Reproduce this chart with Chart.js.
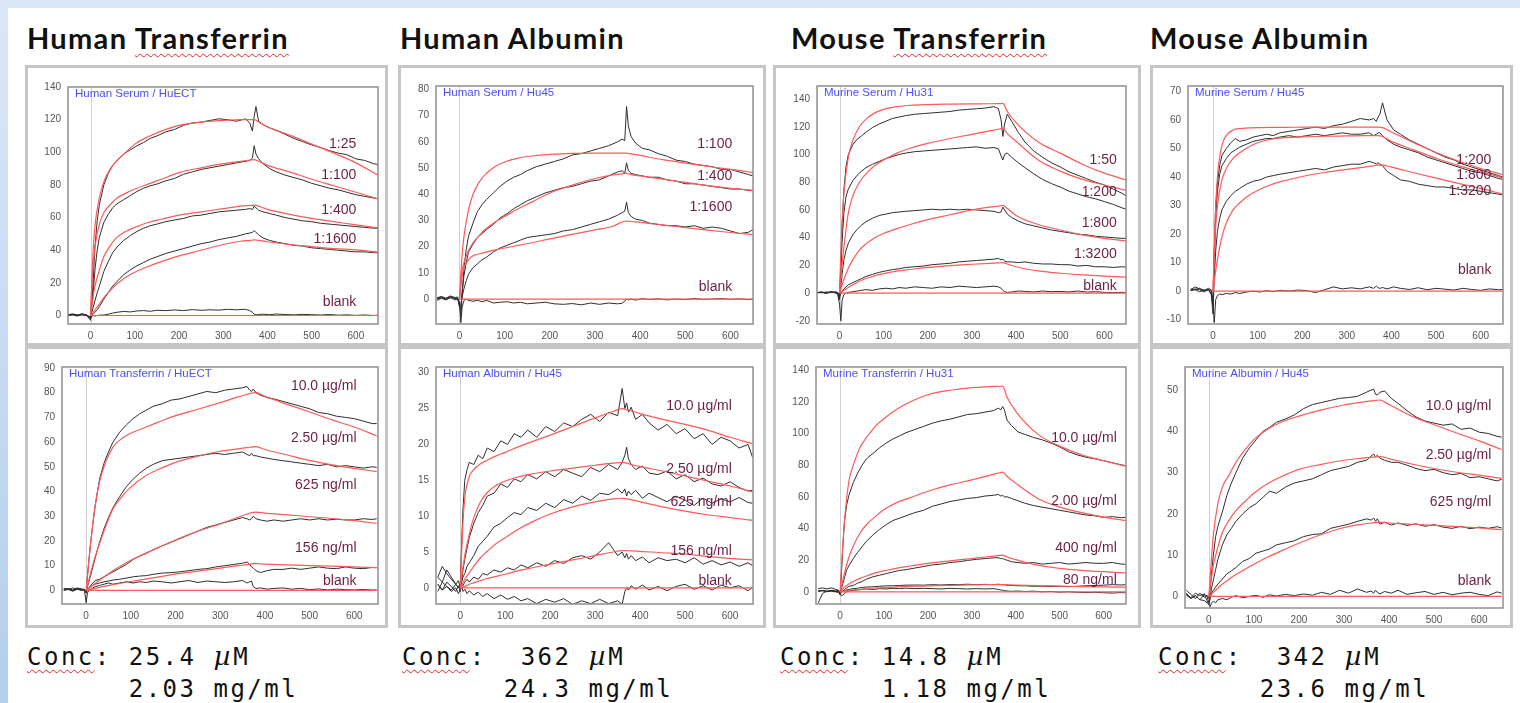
<!DOCTYPE html>
<html>
<head>
<meta charset="utf-8">
<script src="https://cdn.jsdelivr.net/npm/chart.js@4.4.1/dist/chart.umd.min.js"></script>
<style>
  body { margin: 0; width: 1520px; height: 703px; position: relative; overflow: hidden; background: #fff; font-family: 'Liberation Sans', Arial, sans-serif; }
  #topBand { position: absolute; left: 0; top: 0; width: 1520px; height: 8px; background: #dbe7f7; }
  #leftBand { position: absolute; left: 0; top: 0; width: 8px; height: 703px; background: linear-gradient(#dbe7f7, #b3cfee); }
  .title { position: absolute; top: 24px; font: 700 29px Lato, sans-serif; letter-spacing: 1.3px; line-height: 27px; color: #111; white-space: nowrap; }
  .sp { text-decoration: underline wavy #e22; text-decoration-thickness: 1px; text-underline-offset: 4px; }
  .frame { position: absolute; box-sizing: border-box; border: 3px solid #c6c6c6; }
  canvas { position: absolute; }
  .conc { position: absolute; top: 640px; font: 24px 'DejaVu Sans Mono', monospace; letter-spacing: 2.5px; line-height: 32px; white-space: pre; color: #111; }
  .mu { font-family: 'DejaVu Serif', serif; font-style: italic; font-size: 26px; letter-spacing: 3px; }
</style>
</head>
<body>
<div id="topBand"></div>
<div id="leftBand"></div>

<div class="title" style="left:27px">Human <span class="sp">Transferrin</span></div>
<div class="title" style="left:400px">Human Albumin</div>
<div class="title" style="left:791px">Mouse <span class="sp">Transferrin</span></div>
<div class="title" style="left:1150px">Mouse Albumin</div>

<div class="conc" style="left:27px"><span class="sp">Conc</span>: 25.4 <span class="mu">µ</span>M
      2.03 mg/ml</div>
<div class="conc" style="left:402px"><span class="sp">Conc</span>:  362 <span class="mu">µ</span>M
      24.3 mg/ml</div>
<div class="conc" style="left:780px"><span class="sp">Conc</span>: 14.8 <span class="mu">µ</span>M
      1.18 mg/ml</div>
<div class="conc" style="left:1158px"><span class="sp">Conc</span>:  342 <span class="mu">µ</span>M
      23.6 mg/ml</div>

<script>
// time axis (s) of the measured traces and of the fitted curves
const tData = [-50,-40,-30,-20,-10,-4, 0,3,6,10,15,20, 30,40,50,60,75,90, 105,120,135,150,170,190, 210,230,250,270,290,310, 330,350,360,366,370,374, 380,390,405,420,440,460, 480,500,520,540,560,580, 600,620,640,650];
const tFit = [0,5,10,20,30,45,60,80,100,130,160,200,250,300,340,360,370,380,400,450,500,550,600,650];
const xTicks = [0,100,200,300,400,500,600];
const blankFit = [0,0,0,0,0,0,0,0,0,0,0,0,0,0,0,0,0,0,0,0,0,0,0,0];

// Human Serum / HuECT
const hsHuECTTicks = [0,20,40,60,80,100,120,140];
const hsHuECTNames = ['1:25','1:100','1:400','1:1600','blank'];
const hsHuECT25 = [0.5,0.8,0.2,0.9,0.4,-1.5, -3,8,22,42,58,68, 80,87,92,95,99,101.5, 104,106,108.5,110,112.5,114, 116.5,118,118.5,119.5,120.5,120, 119,120.5,118,113,122,128, 119,117,115,113.5,111,108.5, 106.5,104.5,103,101,99.5,98.5, 96,95,93,92.5];
const hsHuECT100 = [0.3,0.6,-0.2,0.5,0.3,-1, -2,6,14,28,40,48, 57,62,66,68.5,71,73.5, 76,78,79.5,80.5,82.5,84, 86.5,88,89.5,90.5,91.5,92.5, 93.5,94.5,95,96.5,104,99, 96,93,90,88,86,84.5, 83,81,79.5,78,77,75.5, 74,73,72,71.5];
const hsHuECT400 = [0.2,0.5,0,0.6,0.1,-0.8, -1.5,2,5,9,14,18, 27,33,38.5,42,46,49, 51.5,53.5,55,56,57.5,58.5, 59.5,61,61.5,62.5,63.5,64, 64.5,65,65.5,65,67,66, 64.5,63.5,62.5,61.5,60,59, 58,57.5,56.5,56,55.5,55, 54.5,54,53.5,53.5];
const hsHuECT1600 = [0,0.4,-0.3,0.5,0.2,-0.5, -1,0,0.8,2,3.5,5.5, 10,14,18,21,25,28, 30.5,32.5,34.5,36,38,39.5, 41,42.5,44,45,46.5,47.5, 48.5,50,50.5,51,52,51, 49.5,47.5,46,45,44,43, 42.5,41.5,41,40.5,40,39.5, 39,39,38.5,38.5];
const hsHuECTBlank = [0.6,0.9,0.3,1,0.5,-0.5, -1.5,-0.5,0,-0.3,0,0.2, 0.3,0.8,1.5,2,2.5,2.2, 2.8,3,2.6,3.2,3,3.4, 3,3.6,3.2,3.5,3.3,3.8, 3.5,3.8,3,2,0.8,0.4, 0.6,0.8,0.5,0.9,0.6,0.4, 0.7,0.5,0.3,0.6,0.2,0.4, 0.1,0.3,0,0.2];
const hsHuECT25Fit = [0,35,55,72,82,90,95,100,105,109.5,113,116.5,118.5,119.5,120,120,120,118.5,115.5,110.5,105,99.5,93.5,86];
const hsHuECT100Fit = [0,28,42,56,63,68,72,75,77.5,80.5,83.5,87.5,90.5,93,94.5,95.2,95.5,94.5,92,88,83.5,79.5,75.5,71.5];
const hsHuECT400Fit = [0,10,18,28,36,43,48,51.5,54,57,59,61.5,63.5,65.5,67,67.4,67.6,67,65,62,59.5,57.5,55.5,53.7];
const hsHuECT1600Fit = [0,1.5,3.5,7,11,15.5,19.5,23.5,26.5,30,33,36.5,40,43.5,45.5,46,46.3,46,45.2,43.5,42.2,41,40.2,38.9];

// Human Serum / Hu45
const hsHu45Ticks = [0,10,20,30,40,50,60,70,80];
const hsHu45Names = ['1:100','1:400','1:1600','blank'];
const hsHu45_100 = [0.5,1,0.4,1.2,0.6,0.8, -2,-6,2,12,19,24, 29,33.5,36,38,40.5,43, 45,46.5,47.5,49,50.5,51.5, 52.5,53.5,55,55.5,56.5,57.5, 58.5,60,61,60.5,73.5,66, 62,59.5,57.5,57,55.5,54.5, 53,52.5,51.5,51,50.5,49.5, 49.5,48.5,47.5,47];
const hsHu45_400 = [0.2,0.8,0,1,0.3,0.5, -2.5,-4,3,9,14,18, 21,23.5,25,26.5,28.5,31, 32.5,34.5,36,37.5,39,40.5, 41.5,42.5,43,44,45,45.5, 47,48.5,49,48,52,49, 48,47.5,47,46.5,46.5,45.5, 45,44,44,43.5,43,42.5, 42,42,41.5,41.5];
const hsHu45_1600 = [0,0.5,-0.3,0.7,0.2,0, -3,-2,1,4,7,9.5, 12,13.5,15,16,18,19.5, 20.5,21.5,22.5,23.5,24,24.5, 25,26,26.5,27.5,28.5,29.5, 30.5,32,33,33.5,37,33, 31.5,30.5,30,29,28.5,28, 28,27.5,28,27,27.5,27, 26,25,25.5,26.5];
const hsHu45Blank = [-0.5,0.3,-0.2,0.5,-0.3,0, -1,-9,-3,-0.5,0,-0.5, -0.8,-0.5,-1,-0.5,-1.5,-1.2, -1,-1.5,-1.2,-1.8,-1.5,-1.2, -1.8,-2,-1.7,-2.2,-1.5,-2, -1.5,-1.8,-1.6,-0.8,0,-0.3, 0,-0.4,0.2,-0.2,0.1,-0.3, 0,-0.2,0.2,-0.1,0,0.2, -0.1,0.1,-0.2,0];
const hsHu45_100Fit = [0,15,24,34,40,45,48,50.7,52.3,53.8,54.6,55.2,55.6,55.7,55.7,55.7,55.7,55.4,54.8,53.2,51.9,50.6,49.5,48.3];
const hsHu45_400Fit = [0,10,14,18.5,21.5,24.5,27,29.5,31.5,34.5,37,40.5,43.5,46,47.4,47.8,48,47.5,47,45.8,44.5,43.3,42.3,41.5];
const hsHu45_1600Fit = [0,8,12,15,16.5,17.3,18,18.8,19.5,20.5,21.5,23,24.7,26.4,27.8,29.4,29.8,29.6,29.3,28.3,27.3,26.3,25.4,24.6];

// Murine Serum / Hu31
const msHu31Ticks = [-20,0,20,40,60,80,100,120,140];
const msHu31Names = ['1:50','1:200','1:800','1:3200','blank'];
const msHu31_50 = [0.5,0.2,0.8,0.3,1,0.5, -3,20,50,75,92,100, 107,111,113.5,116,119.5,122, 124,126,127,128,129,129.5, 130,130.5,131,132,132.5,133, 133.5,134.5,133,125,113,122, 129,124,116,109,102.5,98, 94,91,87.5,85,82.5,80, 78,75,72,70];
const msHu31_200 = [0.3,0.6,0,0.7,0.2,0.3, -5,15,38,58,70,75, 81,85,88,90.5,93,95, 97,98.5,100,101,102,102.5, 103,103.5,104,104.5,105,105.5, 104.5,105,104,99,96,100, 101,98,94,90.5,86,82, 79,76.5,73.5,71.5,69.5,68, 66,64,61.5,60.4];
const msHu31_800 = [0.2,0.5,-0.2,0.6,0.3,0, -4,5,14,24,31,36, 42,46,49,51.5,54,56, 57,58,58.5,59,59.5,60, 60.5,60,60.5,60,60.5,60, 59.5,59,58,58.5,62,60, 57,54.5,52,50,48.5,47, 45.5,44.5,43.5,42.5,42,41, 40.5,40,39.5,39.5];
const msHu31_3200 = [0.3,0.6,0.1,0.8,0.4,0.2, -3,0,1.5,3,4.5,6, 7.5,9,10.5,12,13.5,15, 16,17,17.5,18.5,19,19.5, 20.5,21,21.5,22.5,23,23.5, 24,24.5,25,24,24.5,23, 22.5,22.5,22,22.5,21.5,21, 21,20.5,20.5,19.5,20,19, 19,18.5,19,18.8];
const msHu31Blank = [0.5,0.8,0.2,1,0.5,-1, -8,-20,-5,-1,0,0.5, 1,1.5,2,2.5,2,3, 3.5,3,4,3.5,4.5,4, 3.5,4.5,4,5,4.5,4, 4.5,5,4.5,3.5,2,1, 0.5,0.8,1.5,1.2,0.8,1.5, 1,1.2,0.8,1.5,0.7,1, 0.5,0.3,0.6,0.2];
const msHu31_50Fit = [0,46,72,98,110,120,125.5,130,132.5,134.5,135.5,136,136.3,136.5,136.6,136.7,136.8,131,123,109,101,93,86.5,81.5];
const msHu31_200Fit = [0,18,33,58,70,80,86,92,96,101,104.5,108,111.5,114.5,117,118.2,119,115,109.5,96,88,82,78,74];
const msHu31_800Fit = [0,5,10,18,24,31,35.5,40,43,46.5,49.5,53,56.5,60,62,62.8,63.3,61,56,49.5,45.5,42,39.5,37.5];
const msHu31_3200Fit = [0,1,2,4,6,8.5,10.5,12.5,14,15.8,17,18.5,19.8,20.8,21.5,21.8,22,21,19,16,14.3,13.2,12.3,11.5];

// Murine Serum / Hu45
const msHu45Ticks = [-10,0,10,20,30,40,50,60,70];
const msHu45Names = ['1:200','1:800','1:3200','blank'];
const msHu45_200 = [0.5,1.5,0.8,0.3,1,0.5, -3,15,30,38,44,47.5, 50,52,53.5,52.5,53,54, 54.5,55,54.5,55.5,56,56.5, 57,57.5,57,58,58.5,59.5, 60.5,60,60.5,59.5,61,62, 66,60,56.5,55,53,51.5, 50,48.5,47,46,44.5,43.5, 42.5,41.5,40.5,40];
const msHu45_800 = [0.3,0.8,0.5,-0.3,0.6,0, -5,10,25,35,41,44, 46.5,48.5,49.5,50.5,51.5,52.5, 53,53.5,53.5,54,54.5,54, 54.5,55,54.5,55,55.5,55, 55,55.5,54.5,55,55.5,55.5, 54.5,53,51.5,50.5,49.5,48.5, 47,46,45,44,43,42, 41.5,40.5,39.5,39.2];
const msHu45_3200 = [0.2,0.5,-0.2,0.4,0.3,-1, -8,5,14,21,25.5,28.5, 31.5,33.5,35,36,37.5,38.5, 39,40,40.5,41,41.5,42, 42.5,43,42.5,43.5,44,44.5, 44.5,45.5,45,44.5,45,44.5, 44,42,40.5,39,38.5,37.5, 37,36.5,36.5,36,35.5,35.5, 35,34.5,34,33.7];
const msHu45Blank = [0.8,0.5,1,0.2,0.6,-1, -4,-11,-3,-1.5,-1,-1.2, -0.8,-1,-0.5,-0.8,-0.3,0, -0.3,0.2,-0.2,0.3,0,0.4, 0.2,-0.5,0.5,1.5,0.8,1.2, 0.8,1.5,1,1.8,1.2,1, 1.3,0.8,1.5,1,0.6,1.2, 0.5,1,0.7,0.4,1,0.6, 0.3,0.8,0.5,0.6];
const msHu45_200Fit = [0,25,40,51,54.5,56.5,57,57.2,57.3,57.4,57.4,57.5,57.5,57.5,57.5,57.5,57.5,57.3,55.8,52,48.6,45.6,43,40.8];
const msHu45_800Fit = [0,20,30,39,43,46.5,48.5,50.5,52,53.3,53.8,54.1,54.3,54.4,54.5,54.5,54.5,54.2,52.5,49.5,46.6,44,41.8,39.7];
const msHu45_3200Fit = [0,6,11,19,24,28.5,31,33.5,35.3,37.3,38.7,40.2,41.6,42.7,43.5,43.9,44.2,44.2,43.5,41.5,39.6,37.8,36,34];

// Human Transferrin / HuECT
const htHuECTTicks = [0,10,20,30,40,50,60,70,80,90];
const htHuECTNames = ['10.0 µg/ml','2.50 µg/ml','625 ng/ml','156 ng/ml','blank'];
const htHuECT10 = [0.5,0.8,0.2,1,0.6,0.3, -1,6,12,19,27,34, 45,51.5,56,60,64,67, 69.5,71.5,73,74.5,75.5,77, 77.5,78.5,79.5,80.5,80,81, 81.5,82,82.5,81,80.5,81.5, 80,79,78,77.5,76.5,75.5, 74.5,73.5,72,71.5,70.5,70, 69.5,68.5,67.5,67.5];
const htHuECT250 = [0.3,0.6,0,0.8,0.4,0.5, -1,1.5,3.5,6,9.5,13, 19.5,25,29.5,33.5,38,42, 45,47.5,49.5,51,52.5,53, 53.5,54,54.5,55,55.5,55, 55.5,56,55,54.5,55.5,54.5, 54.5,54,53.5,53,52.5,52, 51.5,51,50.5,51,50,50.5, 50,49.5,50,49.8];
const htHuECT625 = [0.2,0.5,-0.2,0.6,0.1,0.3, -1,0,1,2,3,4, 4.5,5.5,6.5,7.5,9,10.5, 12.5,14,15,16.5,18,19.5, 21,22.5,24,25.5,26.5,27.5, 28.5,29.5,29,28.5,29,30, 29,28.5,28,28.5,28,28.5, 29,28.5,29,28.5,28.8,28.5, 28.5,29,28.7,29];
const htHuECT156 = [0,0.4,-0.3,0.5,0,0.2, -0.5,0.3,0.8,1.5,2,2.5, 3,3.5,3.8,4.2,4.5,5, 5.5,5.8,6,6.5,7,7.2, 7.5,8,8.5,8.8,9.5,10, 10.5,11,11.5,10.5,9.5,9, 8,7.2,8,8.5,8.5,9, 8.5,9,9.5,9,8.8,9.5, 9,8.8,9.3,9.2];
const htHuECTBlank = [0.8,0.3,1,0.5,0.2,0.4, -5,-1,0,0.5,1,1.5, 2,2.5,3,2.5,3,3.5, 3,3.5,3.2,3.8,3.5,3, 3.5,4,3.2,3.8,3.5,3.2, 3.5,4,3,3.5,3.8,1.5, 0.8,1,0.5,0.8,1,0.5, 0.8,0.3,0.6,0.2,0.5,0.3, 0.2,0.4,0.1,0.2];
const htHuECT10Fit = [0,10,19,34,44,52.5,58,61.5,63.6,65.8,68,70.7,73.3,76,78.3,79.3,79.8,80,78.5,75.3,72.2,69,66.1,62.5];
const htHuECT250Fit = [0,3.5,7,13.5,19,26.5,33,38,41.8,46,48.8,51.8,54.3,56.3,57.3,57.8,58,58.2,57,54.8,52.6,50.8,49.4,48.1];
const htHuECT625Fit = [0,0.7,1.4,2.8,4.1,6.1,8,10.2,12.2,14.8,17.2,20.4,24,26.9,29.6,30.9,31.5,31.7,31.3,30.6,29.8,29.1,28.2,27.1];
const htHuECT156Fit = [0,0.2,0.4,0.8,1.2,1.8,2.3,3,3.6,4.5,5.4,6.6,7.8,9,10,10.4,10.7,10.8,10.6,10.3,10,9.8,9.5,9.2];

// Human Albumin / Hu45
const haHu45Ticks = [0,5,10,15,20,25,30];
const haHu45Names = ['10.0 µg/ml','2.50 µg/ml','625 ng/ml','156 ng/ml','blank'];
const haHu45_10 = [1.5,3,2,1.2,0.5,0, 0.5,6,11,15,16.5,17.5, 17.2,18.5,18,19.5,19,20.5, 20,21.5,21,22,21,22.5, 21.8,23,22.5,23.5,24.2,23.2, 24.5,24,27.8,25,25.8,24.5, 25.2,23.5,24.2,23,22,22.8, 21.5,22.2,20.8,21.5,20,21, 20.5,19.5,20,18.2];
const haHu45_250 = [0.5,-0.3,0.8,0.2,-0.5,0.3, -0.5,1,2.5,4,5.5,7, 9,10.5,11.5,12.8,13.2,14.5, 14,15.2,14.8,15.8,15.2,16.2, 15.5,16.5,16,15.5,16.8,16.2, 17.2,16.5,17.5,18.5,19.6,18, 17.2,16.5,17,16,15.8,16.3, 15.2,15.8,14.8,15.3,14.5,14.2, 14.8,14,13.5,13.6];
const haHu45_625 = [-0.5,0.8,0.2,-0.3,0.5,0, 0.3,0.8,1.5,2,3,3.5, 4.5,5.8,6.5,7.2,8.5,9, 9.8,10.5,10.2,11.2,10.8,11.8, 11.2,12.3,11.8,12.8,12.2,13.2, 13,13.8,13.2,13.8,12.8,13.5, 13,13.6,12.5,13.2,12.6,12, 12.8,12.2,11.5,12.5,11.8,12.4, 12,12.6,11.9,11.8];
const haHu45_156 = [1.5,0.8,2.5,1.5,0.5,1, 0,0.5,0.3,0.8,1.2,0.8, 1.5,1.2,2,1.8,2.5,2.2, 2.8,2.5,3.2,2.8,3.5,3, 3.8,3.4,4.2,4.5,4,5, 6.3,4.5,5,4.2,4.8,4, 4.5,3.8,4.3,3.5,4.2,3.8, 4,3.5,4.2,3.3,3.8,3.2, 3.6,3,3.5,3.1];
const haHu45Blank = [0.5,-0.3,0.2,-0.5,0,-0.8, -0.3,0.2,-0.5,-0.2,-0.8,-0.4, -1,-0.6,-1.2,-0.8,-1.5,-1, -1.6,-1.2,-1.8,-1.5,-2.2,-1.6, -2,-1.5,-2.3,-1.8,-2.2,-1.6, -2.2,-1.8,-2.3,-0.5,0,-0.3, 0.3,-0.2,0.4,-0.3,0.2,-0.4, 0.2,0.5,-0.2,0.3,-0.3,0.4, 0,0.3,-0.4,0.1];
const haHu45_10Fit = [0,8,12.5,15.5,16.5,17.3,17.8,18.4,18.9,19.7,20.4,21.3,22.5,23.7,24.6,25,24.85,24.7,24.3,23.5,22.8,22,21,20.1];
const haHu45_250Fit = [0,2.5,4.5,7.5,9.8,12,13.3,14.3,14.9,15.5,15.9,16.3,16.7,17.1,17.4,17.5,17.4,17.2,16.9,16.3,15.6,14.9,14.2,13.4];
const haHu45_625Fit = [0,0.6,1.2,2.1,3,4.2,5.1,6.2,7,8.2,9.2,10.3,11.3,12,12.4,12.5,12.4,12.3,12,11.3,10.7,10.2,9.8,9.4];
const haHu45_156Fit = [0,0.1,0.2,0.5,0.7,1,1.3,1.6,1.9,2.4,2.8,3.3,3.9,4.5,5,5.2,5.2,5.15,5.1,4.9,4.7,4.4,4.1,3.9];

// Murine Transferrin / Hu31
const mtHu31Ticks = [0,20,40,60,80,100,120,140];
const mtHu31Names = ['10.0 µg/ml','2.00 µg/ml','400 ng/ml','80 ng/ml'];
const mtHu31_10 = [0.5,1,0.3,0.8,0.4,0.6, -1.5,12,28,45,55,61, 69,75,80,84,87.5,91, 94,96.5,98.5,100.5,102.5,104.5, 106.5,108,109,110.5,112,112.5, 113.5,114.5,116,115,117,115, 108.5,105,101,99.5,97.5,96, 94,91.5,88.5,86.5,85,84, 82.8,81.5,80.2,79.7];
const mtHu31_200 = [0.3,0.6,0,0.8,0.2,0.4, -2,2,5,9,14,16.5, 21,25,28.5,32,36,39.5, 42.5,45,46.5,48,50,51.5, 54,55.5,57,58,59,59.5, 60.5,61,61.5,60.5,61,60, 60,59,57.5,56,54.5,53.5, 52.5,51.5,50.5,49.5,48.5,48, 47,47.5,46.8,47];
const mtHu31_400 = [0.5,0.8,0.2,1,0.5,0.8, -1,0,0.5,1.5,2.5,3.5, 4,5.5,6.5,8,9.5,10.5, 11.5,12.5,13.5,14,15,16, 17,17.5,18.5,19,19.8,20.5, 21,21.5,21.5,21,21,20.5, 20,19,18.5,18,18.5,17.5, 18,18.5,17.5,18,18.5,18, 18,18.5,17.5,17.4];
const mtHu31_80 = [2,2.5,1.8,2.5,1.5,1, -1,0,0.5,0.8,1.2,1.5, 2,2.3,2.8,3,3.2,3.5, 3.8,3.8,4,4.2,4.3,4.2, 4.5,4.3,4.6,4.5,4.8,4.5, 4.7,4.5,4.8,4.6,4.4,4.5, 4.2,4,3.8,3.8,3.5,3.6, 3.3,3.5,3.2,3.5,3.8,4, 4.2,4.5,4.3,4.5];
const mtHu31Blank = [-7,-1,0.5,0.2,0,-0.5, -1,-2.5,-2,-1,0,0.5, 1,1.2,1.5,1.8,1.5,2, 1.8,2.2,2,2.3,2,2.2, 2,1.8,2.2,2,1.8,2, 1.8,2,1.5,1.2,1,0.8, 0.5,0.3,0.5,0.2,0.4,0, 0.2,-0.2,0,-0.3,-0.5,-0.3, -0.6,-0.8,-0.5,-0.6];
const mtHu31_10Fit = [0,25,45,70,80,91,97.5,104.5,109.5,115.5,120,124.5,127.3,129,129.6,129.8,129.9,123,114,99.6,92,86.5,82.8,79.3];
const mtHu31_200Fit = [0,6,12,22,29,37,42.5,47.5,52,56.5,59.5,63.5,67.5,70.7,73.5,75,75.6,73,68.5,59,53.5,50,47.2,45];
const mtHu31_400Fit = [0,1.5,3,5,6.5,8.5,10,12,13.3,15,16.3,18,19.6,21,22.3,22.8,23.2,22,20.3,16.8,14.8,13.5,12.7,11.9];
const mtHu31_80Fit = [0,0.3,0.5,0.9,1.2,1.6,2,2.4,2.7,3.1,3.4,3.7,4.1,4.4,4.5,4.6,4.6,4.5,4.3,3.9,3.6,3.3,3.1,2.9];

// Murine Albumin / Hu45
const maHu45Ticks = [0,10,20,30,40,50];
const maHu45Names = ['10.0 µg/ml','2.50 µg/ml','625 ng/ml','blank'];
const maHu45_10 = [1.5,0.5,-0.5,0.8,-0.2,0.3, -0.5,2,6,10,14.5,17, 20.5,24.5,27.5,30,33.5,36, 38,40,41,42.2,43,44, 45.5,46.5,47,47.5,48,48.2, 48.5,49.5,50,50.2,49,48.8, 49.5,49.8,48,46.8,45,43.5, 42.5,42,41.5,41.8,40.5,40.8, 39.8,39.5,38.8,38.6];
const maHu45_250 = [0.5,-0.3,0.8,0.2,0.6,0, -1.5,0,2,4,6.5,9, 12.5,15,16.5,18.2,20,21.5, 22.5,24,25.5,25,26.5,27.5, 28,28.5,29.5,30.5,31,31.5, 32.5,33,34,34.5,33.8,34.2, 33.5,33,32.5,32.5,31.8,31, 30.5,30.8,30,29.5,29.8,28.8, 29,28.5,28,28.4];
const maHu45_625 = [0.3,-0.5,0.2,-0.8,0.5,-1, -2,-0.5,0.8,1.5,2.3,3, 4.2,5.5,6.2,7,8.5,9.2, 10.5,11,11.5,12.5,13,13.5, 14.5,15,15.2,16.5,17,17.5, 18.2,18.8,18.5,19,18.2,18.8, 17.5,18,17.3,17.8,17.2,17.6, 17,17.4,16.8,16.5,17,16.4, 16.8,16.5,16.9,16.6];
const maHu45Blank = [0.8,-0.5,0.2,-0.8,-1,-1.5, -2,-2.5,-1.5,-1.2,-1.5,-0.8, -0.5,-0.8,-0.2,0.2,-0.3,0, 0.3,-0.2,0.4,0.1,0.5,0.2, 0.6,0.3,1,0.5,1.5,0.8, 1.8,1,1.3,0.8,1.5,1, 0.6,1.2,0.8,1.5,0.5,0.9, 1.2,0.5,1,0.4,0.8,1, 0.5,0.2,1.1,0.8];
const maHu45_10Fit = [0,8,15,22.5,26.5,29.5,32.5,35.5,38,40.5,42.2,43.7,45.2,46.4,47.1,47.4,47.5,47.6,46.5,43.7,41.6,39.6,37.7,35.6];
const maHu45_250Fit = [0,4,7.5,12,15.5,18.5,20.8,23,25,27.3,29,30.8,32,33,33.5,33.7,33.8,33.9,33.4,32.1,31,30.1,29.4,28.6];
const maHu45_625Fit = [0,0.5,1,2,3,4.2,5.3,6.6,7.8,9.5,11,12.9,15,16.7,17.5,17.8,17.9,18,17.8,17.5,17.2,16.9,16.6,16.2];

// panel layout: plot box in page px [left, top, right, bottom], axis ranges, label anchors (data units)
const panels = [
  { box: [68, 80, 378, 324], xr: [-51, 650], yr: [-5.2, 140], yTicks: hsHuECTTicks,
    title: 'Human Serum / HuECT', names: hsHuECTNames,
    data: [hsHuECT25, hsHuECT100, hsHuECT400, hsHuECT1600, hsHuECTBlank],
    fits: [hsHuECT25Fit, hsHuECT100Fit, hsHuECT400Fit, hsHuECT1600Fit, blankFit],
    labelAt: [[601, 105], [601, 86], [601, 64.6], [601, 46.8], [601, 8]] },
  { box: [436, 79, 753, 324], xr: [-52, 650], yr: [-9.5, 81.3], yTicks: hsHu45Ticks,
    title: 'Human Serum / Hu45', names: hsHu45Names,
    data: [hsHu45_100, hsHu45_400, hsHu45_1600, hsHu45Blank],
    fits: [hsHu45_100Fit, hsHu45_400Fit, hsHu45_1600Fit, blankFit],
    labelAt: [[604, 59], [604, 47], [604, 35], [604, 4.7]] },
  { box: [817, 79, 1126, 324], xr: [-51, 649], yr: [-22.3, 149.4], yTicks: msHu31Ticks,
    title: 'Murine Serum / Hu31', names: msHu31Names,
    data: [msHu31_50, msHu31_200, msHu31_800, msHu31_3200, msHu31Blank],
    fits: [msHu31_50Fit, msHu31_200Fit, msHu31_800Fit, msHu31_3200Fit, blankFit],
    labelAt: [[628, 96], [628, 73], [628, 50.4], [628, 28], [628, 4.8]] },
  { box: [1188, 79, 1503, 324], xr: [-56, 650], yr: [-11.5, 71.9], yTicks: msHu45Ticks,
    title: 'Murine Serum / Hu45', names: msHu45Names,
    data: [msHu45_200, msHu45_800, msHu45_3200, msHu45Blank],
    fits: [msHu45_200Fit, msHu45_800Fit, msHu45_3200Fit, blankFit],
    labelAt: [[624, 46], [624, 40.5], [624, 35.2], [624, 7.3]] },
  { box: [62, 360, 378, 604], xr: [-54, 653], yr: [-5.5, 90.4], yTicks: htHuECTTicks,
    title: 'Human Transferrin / HuECT', names: htHuECTNames,
    data: [htHuECT10, htHuECT250, htHuECT625, htHuECT156, htHuECTBlank],
    fits: [htHuECT10Fit, htHuECT250Fit, htHuECT625Fit, htHuECT156Fit, blankFit],
    labelAt: [[605, 82.5], [605, 61.6], [605, 42.6], [605, 17], [605, 3.9]] },
  { box: [436, 360, 753, 604], xr: [-54, 651], yr: [-2.25, 30.8], yTicks: haHu45Ticks,
    title: 'Human Albumin / Hu45', names: haHu45Names,
    data: [haHu45_10, haHu45_250, haHu45_625, haHu45_156, haHu45Blank],
    fits: [haHu45_10Fit, haHu45_250Fit, haHu45_625Fit, haHu45_156Fit, blankFit],
    labelAt: [[604, 25.4], [604, 16.6], [604, 12], [604, 5.1], [604, 1]] },
  { box: [816, 360, 1126, 604], xr: [-55, 651], yr: [-7.7, 142], yTicks: mtHu31Ticks,
    title: 'Murine Transferrin / Hu31', names: mtHu31Names,
    data: [mtHu31_10, mtHu31_200, mtHu31_400, mtHu31_80, mtHu31Blank],
    fits: [mtHu31_10Fit, mtHu31_200Fit, mtHu31_400Fit, mtHu31_80Fit, blankFit],
    labelAt: [[630, 97], [630, 57.2], [630, 27.6], [630, 7.2]] },
  { box: [1185, 360, 1503, 608], xr: [-53, 653], yr: [-2.8, 55.6], yTicks: maHu45Ticks,
    title: 'Murine Albumin / Hu45', names: maHu45Names,
    data: [maHu45_10, maHu45_250, maHu45_625, maHu45Blank],
    fits: [maHu45_10Fit, maHu45_250Fit, maHu45_625Fit, blankFit],
    labelAt: [[627, 46], [627, 34.3], [627, 22.8], [627, 3.7]] }
];

// grey boxes round each sensorgram
const cols = [[25, 388], [398, 766], [773, 1141], [1150, 1513]];
const rows = [[65, 346], [346, 628]];
rows.forEach(([t, b]) => cols.forEach(([l, r]) => {
  const f = document.createElement('div');
  f.className = 'frame';
  f.style.cssText = `left:${l}px;top:${t}px;width:${r - l}px;height:${b - t}px`;
  document.body.appendChild(f);
}));

const tickFont = { size: 10, family: "'Liberation Sans', Arial" };

function deco(p) {
  return {
    id: 'deco',
    beforeDatasetsDraw(chart) {
      const { ctx, chartArea: a, scales: { x } } = chart;
      const px = Math.round(x.getPixelForValue(0)) + 0.5;
      ctx.save();
      ctx.strokeStyle = '#d0d0d0';
      ctx.lineWidth = 1;
      ctx.beginPath();
      ctx.moveTo(px, a.top);
      ctx.lineTo(px, a.bottom);
      ctx.stroke();
      ctx.restore();
    },
    afterDatasetsDraw(chart) {
      const { ctx, chartArea: a, scales: { x, y } } = chart;
      ctx.save();
      ctx.font = "14px 'Liberation Sans', Arial";
      ctx.fillStyle = '#6b1f44';
      ctx.textAlign = 'right';
      ctx.textBaseline = 'middle';
      p.names.forEach((n, i) => {
        const [lx, ly] = p.labelAt[i];
        ctx.fillText(n, x.getPixelForValue(lx), y.getPixelForValue(ly));
      });
      ctx.font = "11.5px 'Liberation Sans', Arial";
      ctx.fillStyle = '#4d4dff';
      ctx.textAlign = 'left';
      ctx.fillText(p.title, a.left + 7, a.top + 7);
      ctx.strokeStyle = '#8f8f8f';
      ctx.lineWidth = 1.5;
      ctx.strokeRect(a.left, a.top, a.right - a.left, a.bottom - a.top);
      ctx.restore();
    }
  };
}

panels.forEach(p => {
  const [L, T, R, B] = p.box;
  const c = document.createElement('canvas');
  c.width = R - L + 46;
  c.height = B - T + 26;
  c.style.left = (L - 40) + 'px';
  c.style.top = (T - 6) + 'px';
  document.body.appendChild(c);

  const datasets = [];
  p.fits.forEach(arr => datasets.push({
    data: tFit.map((t, i) => ({ x: t, y: arr[i] })),
    borderColor: '#ff5959', borderWidth: 1.2, cubicInterpolationMode: 'monotone', order: 1
  }));
  p.data.forEach(arr => datasets.push({
    data: tData.map((t, i) => ({ x: t, y: arr[i] })),
    borderColor: '#2e2e2e', borderWidth: 1, tension: 0, order: 2
  }));

  new Chart(c, {
    type: 'line',
    data: { datasets },
    options: {
      responsive: false,
      animation: false,
      events: [],
      layout: { padding: { top: 6, right: 6, left: 0, bottom: 0 } },
      elements: { point: { radius: 0 } },
      plugins: { legend: { display: false }, tooltip: { enabled: false } },
      scales: {
        x: {
          type: 'linear', min: p.xr[0], max: p.xr[1],
          grid: { display: false, drawTicks: false }, border: { display: false },
          ticks: { color: '#555', font: tickFont, padding: 6, maxRotation: 0, autoSkip: false, callback: v => String(v) },
          afterBuildTicks: s => { s.ticks = xTicks.map(v => ({ value: v })); },
          afterFit: s => { s.height = 20; }
        },
        y: {
          type: 'linear', min: p.yr[0], max: p.yr[1],
          grid: { display: false, drawTicks: false }, border: { display: false },
          ticks: { color: '#555', font: tickFont, padding: 7, autoSkip: false, callback: v => String(v) },
          afterBuildTicks: s => { s.ticks = p.yTicks.map(v => ({ value: v })); },
          afterFit: s => { s.width = 40; }
        }
      }
    },
    plugins: [deco(p)]
  });
});
</script>
</body>
</html>
